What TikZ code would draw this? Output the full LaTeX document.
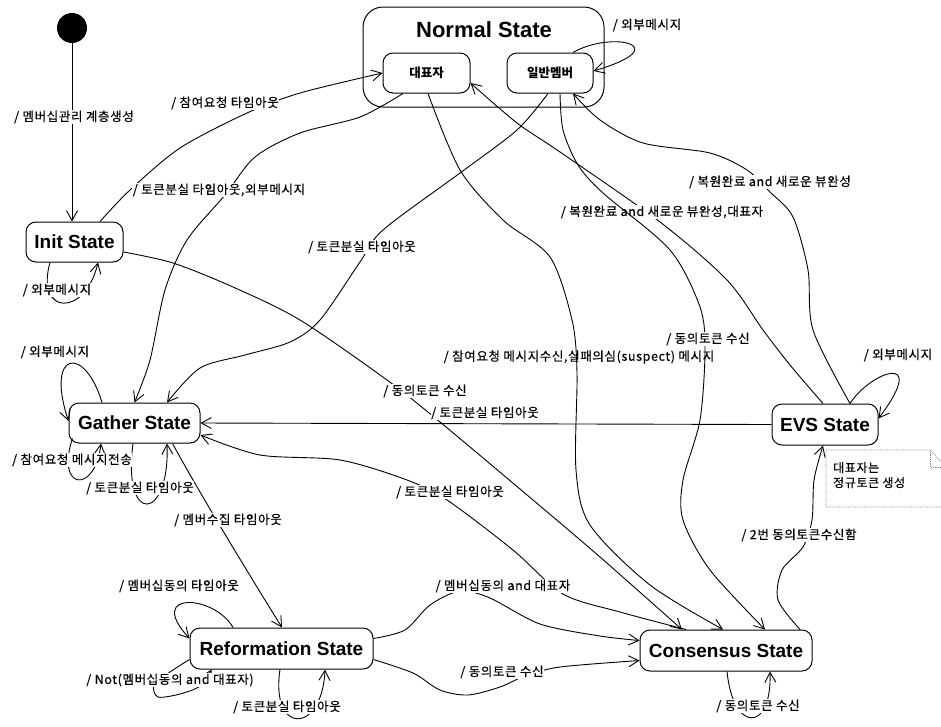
\documentclass[tikz,border=0pt]{standalone}
\usepackage{fontspec}
\setmainfont{Liberation Sans}
\newfontfamily\kr{Noto Sans CJK KR}
\newfontfamily\krl[LetterSpace=5, FakeBold=0.4]{Noto Sans CJK KR}
\usetikzlibrary{arrows.meta}
\tikzset{
  st/.style={draw, rounded corners=10pt, line width=1pt, inner sep=0pt,
    font=\fontsize{19}{22}\selectfont\bfseries, minimum height=41pt},
  sub/.style={draw, rounded corners=10pt, line width=1pt, inner sep=0pt,
    font=\kr\fontsize{12.5}{14}\selectfont\bfseries, minimum height=40pt},
  lbl/.style={font=\krl\fontsize{12.5}{14}\selectfont, fill=white, inner sep=0.6pt},
  lblnf/.style={font=\krl\fontsize{12.5}{14}\selectfont, inner sep=0.6pt},
  tr/.style={line width=0.9pt, -{Straight Barb[length=10pt,width=11pt]}},
}
\begin{document}
\begin{tikzpicture}[x=1pt,y=-1pt]
\useasboundingbox (0,0) rectangle (941,726);

% ---------- nodes ----------
\node[circle, fill=black, minimum size=30pt, inner sep=0pt] (init) at (72,28) {};
\node[draw, rounded corners=20pt, line width=1pt, minimum width=241pt, minimum height=100pt] (normal) at (483.5,57) {};
\node[font=\fontsize{22}{26}\selectfont\bfseries] (ntitle) at (484,30) {Normal State};
\node[sub, minimum width=87pt] (rep) at (426.5,73) {대표자};
\node[sub, minimum width=86pt] (mem) at (550,73) {일반멤버};
\node[st, minimum width=97pt, minimum height=40pt] (initst) at (74.5,242) {Init State};
\node[st, minimum width=131pt, minimum height=40pt] (gather) at (134.5,423) {Gather State};
\node[st, minimum width=106pt] (evs) at (825,424.5) {EVS State};
\node[st, minimum width=183pt] (ref) at (281.5,648.5) {Reformation State};
\node[st, minimum width=172pt] (cons) at (726,650.5) {Consensus State};

% note
\draw[gray, densely dotted, line width=0.8pt] (826,450) -- (930,450) -- (946,467) -- (946,507) -- (826,507) -- cycle;
\draw[gray, densely dotted, line width=0.8pt] (930,450) -- (930,467) -- (946,467);
\node[anchor=north west, align=left, font=\krl\fontsize{12}{15}\selectfont, inner sep=0pt] (notetxt) at (833,462) {대표자는\\정규토큰 생성};

% ---------- connectors ----------
\draw[tr] (init.south) -- (init.south |- initst.north);
\draw[tr] plot[smooth] coordinates {([xshift=25.5pt]initst.north) (130,190) (180,148) (247,113) (300,93) (rep.west)};
\draw[tr] plot[smooth] coordinates {([xshift=-23.5pt]rep.south) (360,117) (300,133) (255,157) (225,195) (187,240) (165,290) (150,360) (gather.north)};
\draw[tr] plot[smooth] coordinates {([xshift=-2pt]mem.south) (517,130) (460,173) (383,230) (360,262) (320,320) (290,342) (245,355) (200,368) ([xshift=32.5pt]gather.north)};
\draw[tr] ([xshift=23pt]mem.north) .. controls (612,30) and (678,46) .. ([yshift=2pt]mem.east);
\draw[tr] plot[smooth] coordinates {([yshift=-10pt]initst.east) (173,263) (233,287) (300,320) (387,380) (440,422) (533,500) (600,557) ([xshift=-44pt]cons.north)};
\draw[tr] (evs.west) -- (gather.east);
\draw[tr] ([xshift=25pt]evs.north) .. controls (870,372) and (930,350) .. ([yshift=6pt]evs.east);
\draw[tr] plot[smooth] coordinates {([xshift=-2pt]evs.north) (790,365) (763,330) (727,280) (660,222) (560,152) (517,123) ([yshift=-10pt]rep.east)};
\draw[tr] plot[smooth] coordinates {([xshift=25pt]evs.north) (813,330) (808,270) (793,217) (770,192) (747,170) (710,153) (643,143) (600,120) ([xshift=23pt]mem.south)};
\draw[tr] plot[smooth] coordinates {([xshift=74pt]cons.north) (778,600) (782,570) (803,547) (812,520) (814,480) ([xshift=-2pt]evs.south)};
\draw[tr] ([xshift=1pt]cons.south) .. controls (733,733) and (772,733) .. ([xshift=44pt]cons.south);
\draw[tr] plot[smooth] coordinates {([yshift=10pt]ref.east) (405,630) (430,605) (460,591) (490,598) (540,624) (600,636) ([yshift=10pt]cons.west)};
\draw[tr] plot[smooth] coordinates {([yshift=-11pt]ref.east) (413,673) (440,690) (468,695) (500,687) (525,676) (560,667) ([yshift=-10pt]cons.west)};
\draw[tr] ([xshift=-48.5pt]ref.north) .. controls (215,595) and (145,590) .. ([yshift=10pt]ref.west);
\draw[tr] plot[smooth] coordinates {([yshift=-11pt]ref.west) (170,672) (154,685) (158,697) (180,694) (200,686) ([xshift=-70pt]ref.south)};
\draw[tr] ([xshift=-1.5pt]ref.south) .. controls (270,735) and (322,735) .. ([xshift=43.5pt]ref.south);
\draw[tr] ([xshift=38pt]gather.south) .. controls (195,485) and (240,560) .. ([xshift=0.5pt]ref.north);
\draw[tr] ([xshift=-1.5pt]gather.south) .. controls (122,526) and (170,522) .. ([xshift=32.5pt]gather.south);
\draw[tr] ([xshift=4pt,yshift=5pt]gather.south west) .. controls (55,490) and (95,495) .. ([xshift=-33.5pt]gather.south);
\draw[tr] ([xshift=-32.5pt]gather.north) .. controls (85,345) and (45,350) .. ([yshift=2pt]gather.west);
\draw[tr] ([xshift=-24.5pt]initst.south) .. controls (35,315) and (85,318) .. ([xshift=23.5pt]initst.south);
\draw[tr] plot[smooth] coordinates {([xshift=-40pt]cons.north) (620,612) (563,594) (513,550) (447,500) (407,480) (340,460) (260,455) ([yshift=-12pt]gather.east)};

% ---------- labels ----------
\node[lbl] (l1) at (74,117) {/ 멤버십관리 계층생성};
\node[lbl] (l2) at (225,103) {/ 참여요청 타임아웃};
\node[lbl] (l3) at (219,190) {/ 토큰분실 타임아웃,외부메시지};
\node[lblnf] (l4) at (647,25) {/ 외부메시지};
\node[lbl] (l5) at (362,247) {/ 토큰분실 타임아웃};
\node[lblnf] (l6) at (579,357) {/ 참여요청 메시지수신,실패의심(suspect) 메시지};
\node[lbl] (l8) at (425,391) {/ 동의토큰 수신};
\node[lbl] (l9) at (485,413) {/ 토큰분실 타임아웃};
\node[lbl] (l10) at (450,492) {/ 토큰분실 타임아웃};
\node[lbl] (l11) at (662,212) {/ 복원완료 and 새로운 뷰완성,대표자};
\node[lbl] (l12) at (770,182) {/ 복원완료 and 새로운 뷰완성};
\node[lblnf] (l13) at (898,355) {/ 외부메시지};
\node[lbl] (l14) at (799,535) {/ 2번 동의토큰수신함};
\node[lbl] (l15) at (758,706) {/ 동의토큰 수신};
\node[lbl] (l16) at (503,586) {/ 멤버십동의 and 대표자};
\node[lbl] (l17) at (502,672) {/ 동의토큰 수신};
\node[lbl] (l18) at (179,586) {/ 멤버십동의 타임아웃};
\node[lbl] (l19) at (170,680) {/ Not(멤버십동의 and 대표자)};
\node[lbl] (l20) at (287,707) {/ 토큰분실 타임아웃};
\node[lbl] (l21) at (228,520) {/ 멤버수집 타임아웃};
\node[lbl] (l22) at (140,488) {/ 토큰분실 타임아웃};
\node[lbl] (l23) at (72,460) {/ 참여요청 메시지전송};
\node[lbl] (l24) at (55,352) {/ 외부메시지};
\node[lbl] (l25) at (57,290) {/ 외부메시지};

% connectors that cross labels visibly
\draw[tr] plot[smooth] coordinates {([xshift=1.5pt]rep.south) (460,170) (503,220) (550,257) (572,320) (577,373) (576,470) (590,525) (650,585) ([xshift=-3pt]cons.north)};
\draw[tr] plot[smooth] coordinates {([xshift=10pt]mem.south) (563,130) (578,165) (603,193) (670,250) (700,307) (705,350) (700,420) (683,480) (683,520) (710,570) ([xshift=39pt]cons.north)};
\node[lbl] (l7) at (708,339) {/ 동의토큰 수신};
\end{tikzpicture}
\end{document}
